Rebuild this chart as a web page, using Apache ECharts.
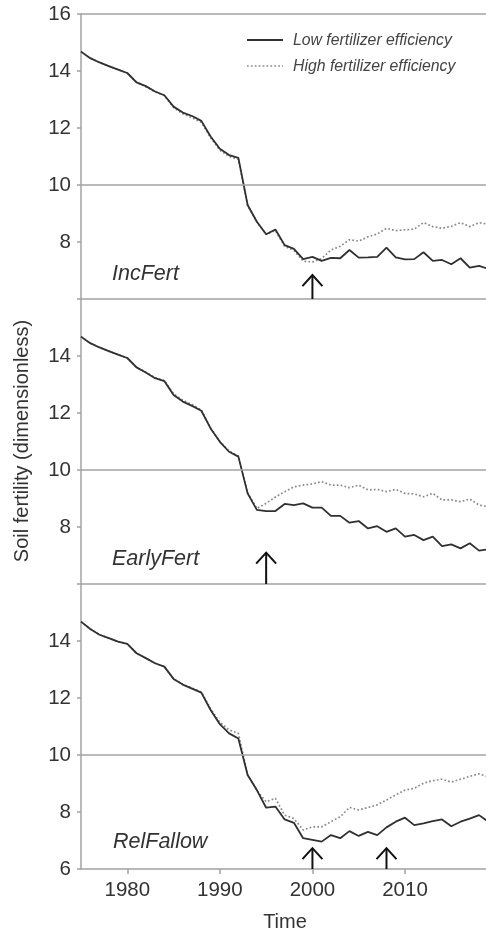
<!DOCTYPE html>
<html>
<head>
<meta charset="utf-8">
<script src="https://cdn.jsdelivr.net/npm/echarts@6/dist/echarts.min.js"></script>
<style>
html,body{margin:0;padding:0;background:#fff;}
#chart{width:486px;height:931px;}
</style>
</head>
<body>
<div id="chart"></div>
<script>
// ---- data ----
const years = [1975,1976,1977,1978,1979,1980,1981,1982,1983,1984,1985,1986,1987,1988,1989,1990,1991,1992,1993,1994,1995,1996,1997,1998,1999,2000,2001,2002,2003,2004,2005,2006,2007,2008,2009,2010,2011,2012,2013,2014,2015,2016,2017,2018,2019];

const incLow  = [14.68,14.45,14.30,14.17,14.05,13.93,13.60,13.47,13.28,13.15,12.75,12.54,12.42,12.25,11.70,11.27,11.05,10.95,9.30,8.71,8.27,8.44,7.89,7.76,7.40,7.48,7.34,7.44,7.43,7.72,7.45,7.46,7.48,7.80,7.46,7.39,7.40,7.64,7.34,7.37,7.22,7.43,7.10,7.16,7.06];
const incHigh = [14.68,14.45,14.30,14.17,14.05,13.93,13.60,13.45,13.27,13.14,12.72,12.50,12.36,12.20,11.66,11.22,11.00,10.90,9.28,8.70,8.27,8.40,7.85,7.70,7.33,7.30,7.42,7.72,7.85,8.08,8.03,8.18,8.28,8.48,8.40,8.43,8.45,8.68,8.54,8.48,8.55,8.68,8.54,8.68,8.62];

const earlyLow  = [14.68,14.45,14.30,14.17,14.05,13.93,13.60,13.42,13.22,13.12,12.63,12.40,12.25,12.08,11.46,10.99,10.64,10.47,9.18,8.60,8.56,8.56,8.81,8.77,8.83,8.68,8.68,8.39,8.39,8.15,8.21,7.95,8.03,7.83,7.95,7.66,7.72,7.54,7.66,7.33,7.39,7.25,7.43,7.17,7.22];
const earlyHigh = [14.68,14.45,14.30,14.17,14.05,13.93,13.60,13.43,13.24,13.14,12.68,12.45,12.30,12.10,11.48,11.00,10.66,10.49,9.20,8.65,8.83,9.05,9.24,9.41,9.47,9.51,9.59,9.47,9.47,9.38,9.47,9.30,9.32,9.24,9.32,9.18,9.16,9.06,9.18,8.95,8.95,8.89,8.98,8.77,8.71];

const relLow  = [14.68,14.42,14.22,14.10,13.98,13.90,13.57,13.40,13.22,13.10,12.67,12.47,12.33,12.19,11.58,11.08,10.76,10.58,9.30,8.77,8.15,8.19,7.74,7.62,7.08,7.02,6.96,7.19,7.08,7.33,7.16,7.30,7.19,7.46,7.66,7.80,7.54,7.60,7.68,7.74,7.50,7.66,7.77,7.89,7.66];
const relHigh = [14.68,14.42,14.22,14.10,13.98,13.90,13.57,13.40,13.22,13.10,12.67,12.47,12.35,12.21,11.62,11.15,10.88,10.76,9.30,8.75,8.36,8.48,7.89,7.77,7.37,7.48,7.48,7.66,7.83,8.16,8.07,8.16,8.25,8.42,8.60,8.77,8.83,9.01,9.10,9.15,9.05,9.15,9.25,9.34,9.23];

// arrows: [year, tip value]
const incArrows   = [[2000, 6.84]];
const earlyArrows = [[1995, 7.10]];
const relArrows   = [[2000, 6.73],[2008, 6.73]];

const panelNames = ['IncFert','EarlyFert','RelFallow'];
const seriesNames = ['Low fertilizer efficiency','High fertilizer efficiency'];
const xTicks = [1980,1990,2000,2010];
const yLabelsShown = [[8,10,12,14,16],[8,10,12,14],[6,8,10,12,14]];
const yAxisTitle = 'Soil fertility (dimensionless)';
const xAxisTitle = 'Time';

// ---- chart ----
const FONT = '"Liberation Sans", Arial, sans-serif';
const GRAY = '#a3a3a3';
const LOW_COLOR = '#303030';
const HIGH_COLOR = '#888';
const HIGH_DASH = [1.7, 2.2];
const zip = (vals) => years.map((y,i)=>[y, vals[i]]);
const panels = [[incLow,incHigh,incArrows],[earlyLow,earlyHigh,earlyArrows],[relLow,relHigh,relArrows]];
const tops = [14, 299, 584];
const H = 285;

const grid = tops.map(t => ({left:81, right:0, top:t, height:H, containLabel:false}));
const xAxis = tops.map((t,i) => ({
  type:'value', gridIndex:i, min:1975, max:2018.75,
  axisLine:{show:true, lineStyle:{color:GRAY, width:1.5}},
  axisTick:{show:i===2, length:5, lineStyle:{color:GRAY, width:1.5}, customValues:xTicks},
  axisLabel:{show:i===2, customValues:xTicks, margin:11, fontSize:20.5, color:'#333', fontFamily:FONT,
    formatter:(v)=>String(v)},
  splitLine:{show:false}
}));
const yAxis = tops.map((t,i) => ({
  type:'value', gridIndex:i, min:6, max:16, interval:2,
  axisLine:{show:true, lineStyle:{color:GRAY, width:1.5}},
  axisTick:{show:true, length:4, lineStyle:{color:GRAY, width:1.5}},
  axisLabel:{margin:10, fontSize:20.5, color:'#333', fontFamily:FONT,
    formatter:(v)=> yLabelsShown[i].indexOf(v)>=0 ? String(v) : ''},
  splitLine:{show:false}
}));

const series = [];
panels.forEach((p,i) => {
  const ml = [{yAxis:10}];
  if (i===0) ml.push({yAxis:16});
  series.push({
    name:seriesNames[1], type:'line', xAxisIndex:i, yAxisIndex:i, data:zip(p[1]),
    showSymbol:false, symbol:'none', z:2,
    lineStyle:{color:HIGH_COLOR, width:1.7, type:HIGH_DASH}
  });
  series.push({
    name:seriesNames[0], type:'line', xAxisIndex:i, yAxisIndex:i, data:zip(p[0]),
    showSymbol:false, symbol:'none', z:3,
    lineStyle:{color:LOW_COLOR, width:1.8},
    markLine:{silent:true, symbol:'none', label:{show:false}, animation:false,
      lineStyle:{color:GRAY, width:1.5, type:'solid'}, data:ml}
  });
  series.push({
    type:'custom', xAxisIndex:i, yAxisIndex:i, data:p[2], z:4, clip:false,
    renderItem:(params, api) => {
      const x = api.value(0), tipV = api.value(1);
      const b = api.coord([x, 6]);
      const t = api.coord([x, tipV]);
      return {type:'group', children:[
        {type:'line', shape:{x1:b[0], y1:b[1], x2:t[0], y2:t[1]}, style:{stroke:'#111', lineWidth:2}},
        {type:'polyline', shape:{points:[[t[0]-10,t[1]+11],[t[0],t[1]],[t[0]+10,t[1]+11]]}, style:{stroke:'#111', lineWidth:2, fill:null}}
      ]};
    }
  });
});

const labelPos = [[112,275],[112,560],[113,843]];
const graphic = panelNames.map((n,i)=>({
  type:'text', left:labelPos[i][0], top:labelPos[i][1]-12,
  style:{text:n, font:'italic 21.5px '+FONT, fill:'#333'}
}));
graphic.push({type:'text', x:22, y:441, rotation:Math.PI/2,
  style:{text:yAxisTitle, font:'20px '+FONT, fill:'#333', align:'center', verticalAlign:'middle'}});
graphic.push({type:'text', x:285, y:922,
  style:{text:xAxisTitle, font:'20px '+FONT, fill:'#333', align:'center', verticalAlign:'middle'}});
// legend (drawn)
graphic.push({type:'line', shape:{x1:247, y1:40, x2:283, y2:40}, style:{stroke:LOW_COLOR, lineWidth:1.8}});
graphic.push({type:'line', shape:{x1:247, y1:66, x2:283, y2:66}, style:{stroke:HIGH_COLOR, lineWidth:1.7, lineDash:HIGH_DASH}});
graphic.push({type:'text', x:293, y:41, style:{text:seriesNames[0], font:'italic 15.8px '+FONT, fill:'#444', verticalAlign:'middle'}});
graphic.push({type:'text', x:293, y:67, style:{text:seriesNames[1], font:'italic 15.8px '+FONT, fill:'#444', verticalAlign:'middle'}});

const chart = echarts.init(document.getElementById('chart'), null, {renderer:'canvas'});
chart.setOption({
  animation:false,
  backgroundColor:'#fff',
  grid, xAxis, yAxis, series, graphic
});
</script>
</body>
</html>
